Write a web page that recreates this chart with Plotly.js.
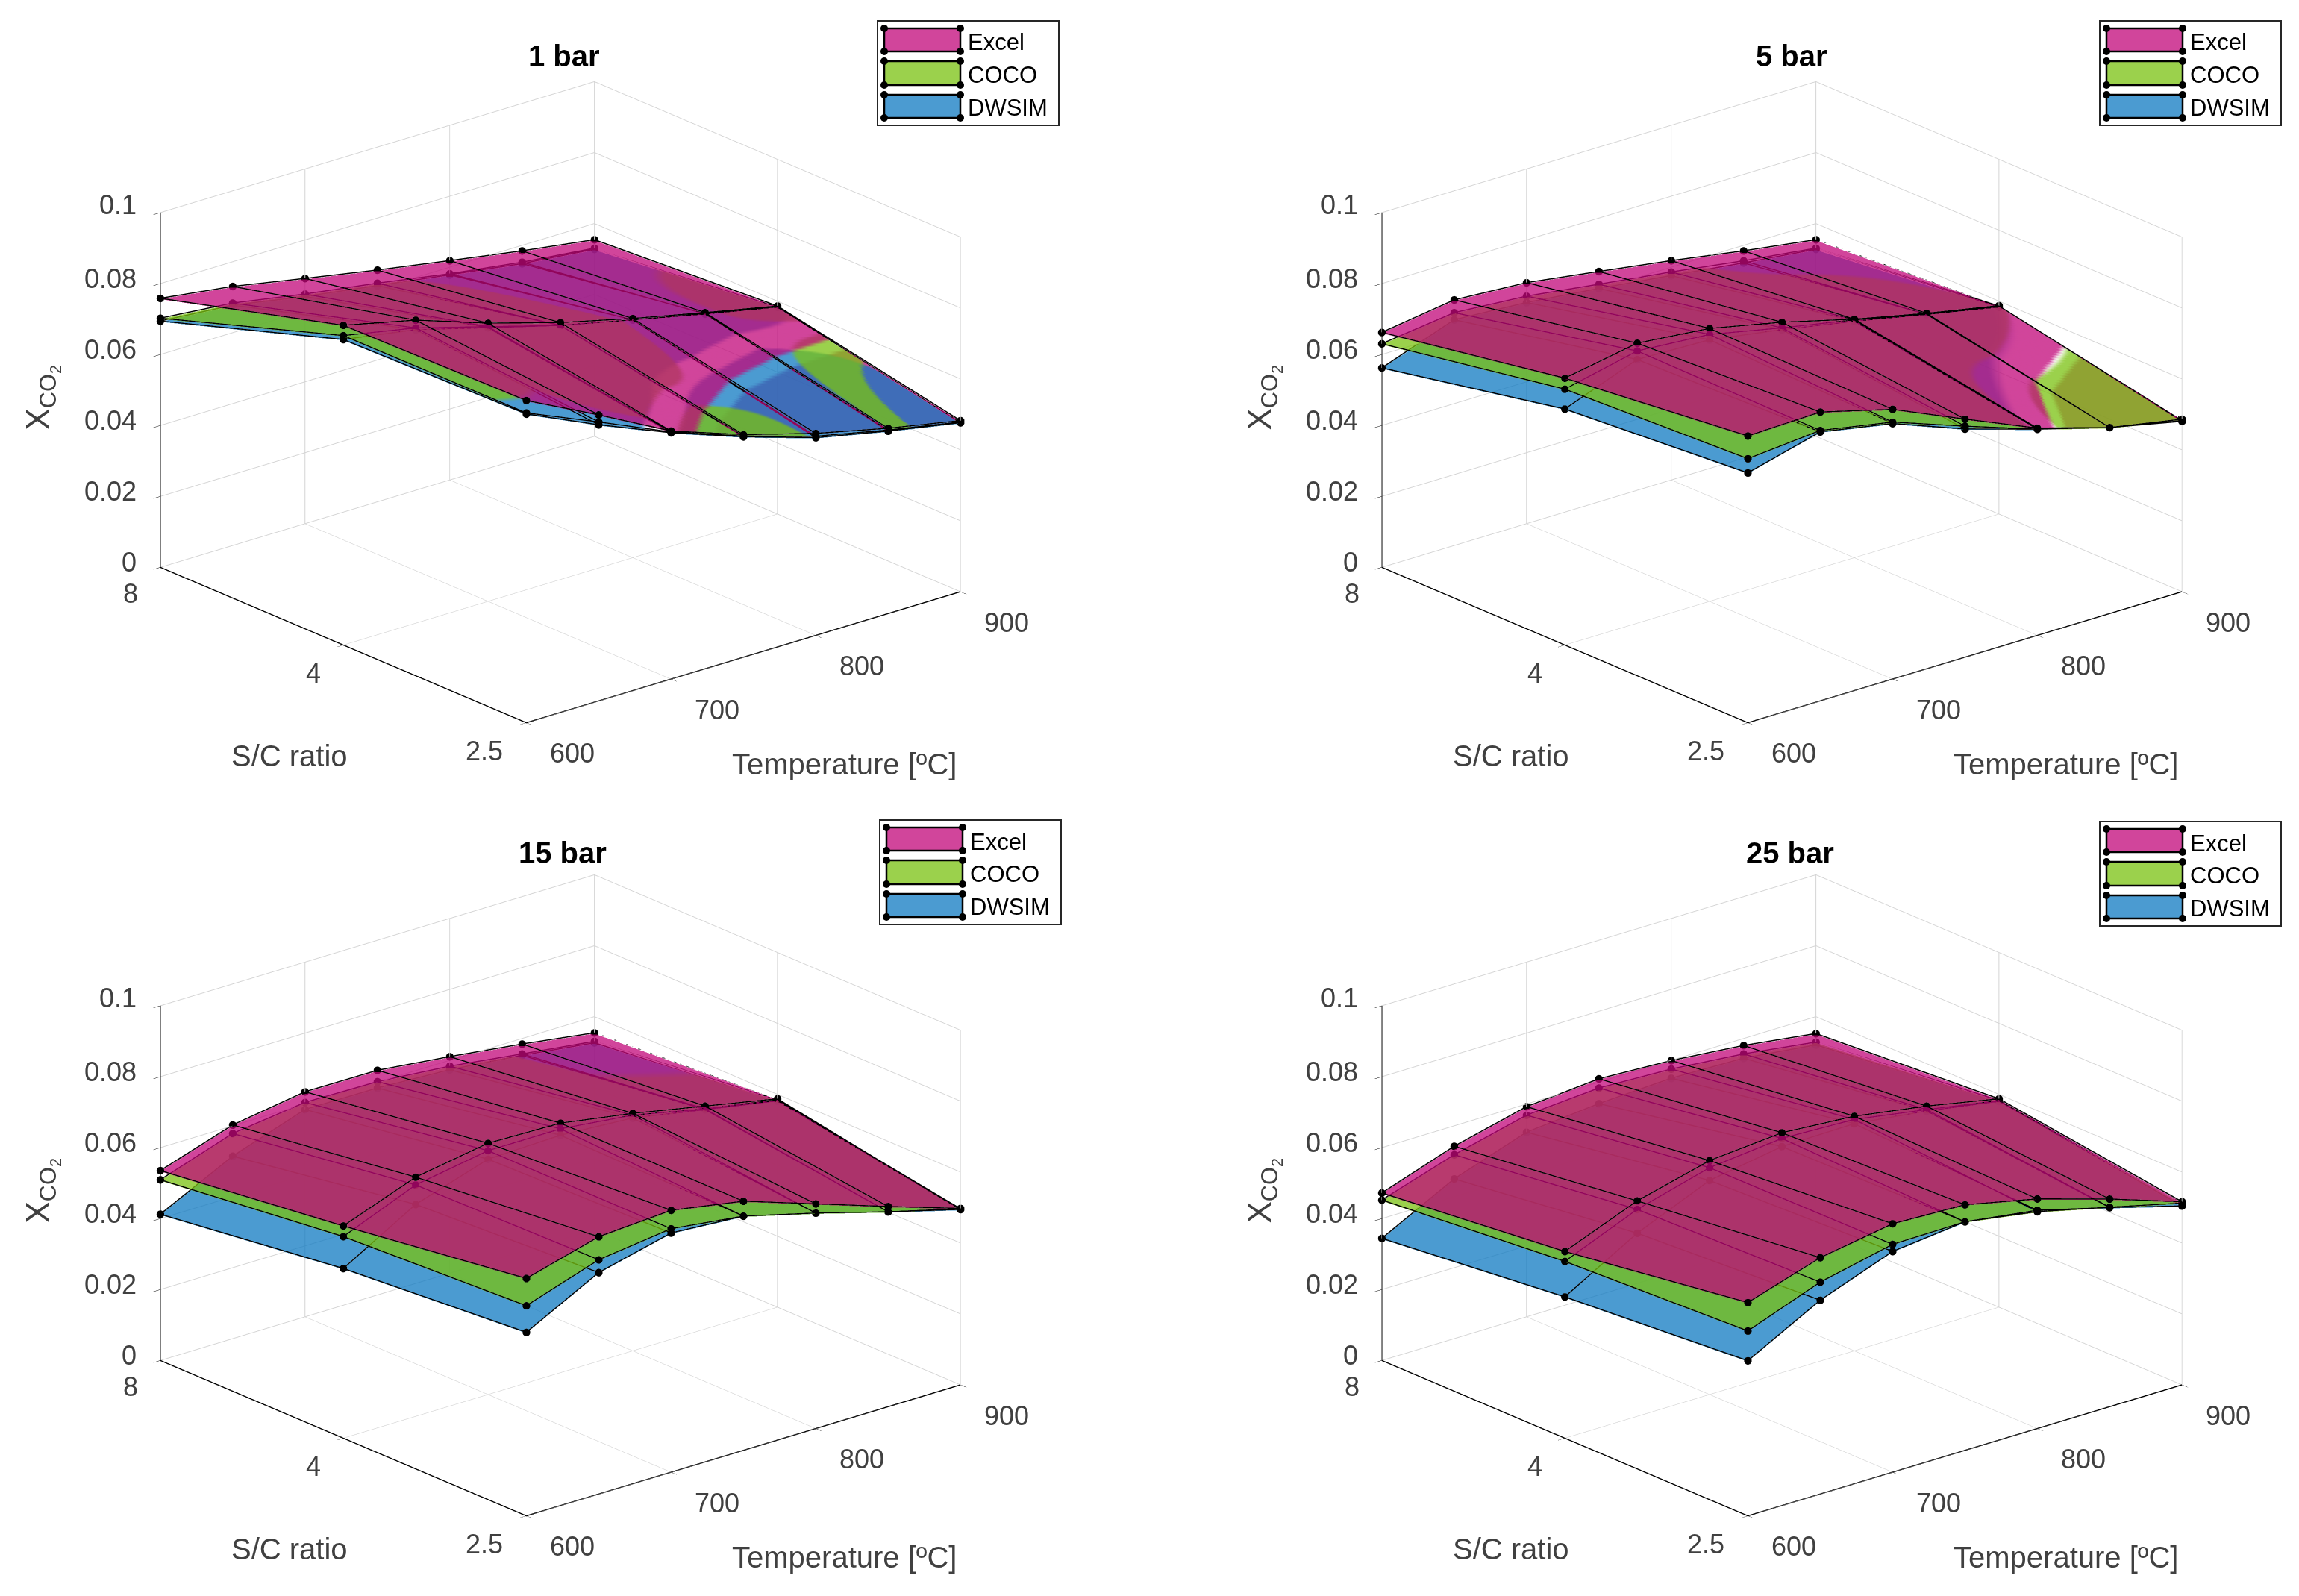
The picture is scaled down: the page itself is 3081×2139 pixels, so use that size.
<!DOCTYPE html>
<html><head><meta charset="utf-8">
<script src="https://cdn.plot.ly/plotly-3.0.1.min.js"></script>
<style>html,body{margin:0;padding:0;background:#fff}#g{width:3081px;height:2139px}</style></head>
<body><div id="g"></div>
<script>
const temperatures=[600,650,700,750,800,850,900];
const scLabels=['2.5','4','8'];
const scPos=[0,1,2];
const zTicks=[0,0.02,0.04,0.06,0.08,0.1];
const tempTicks=[600,700,800,900];
const seriesNames=['DWSIM','COCO','Excel'];
const seriesColors=['rgb(15,122,194)','rgb(122,194,16)','rgb(193,7,121)'];
const panelTitles=['1 bar','5 bar','15 bar','25 bar'];
// rows: S/C = 2.5, 4, 8 ; columns: temperatures
const excel1=[[.0906,.0804,.0697,.0625,.0567,.052,.048],[.0899,.0852,.0782,.0722,.0672,.0627,.0584],[.0756,.0728,.0689,.0651,.0616,.0582,.0552]];
const coco1=[[.0871,.0784,.0694,.0621,.0559,.0515,.0476],[.087,.083,.0772,.0714,.0668,.0623,.0581],[.07,.0681,.0645,.0614,.0579,.055,.0528]];
const dwsim1=[[.0868,.0776,.0692,.0619,.0555,.0512,.0474],[.0859,.0825,.0769,.0714,.0668,.0624,.0581],[.0692,.0675,.0638,.0607,.0576,.0546,.0525]];
const excel5=[[.0806,.0812,.0758,.0669,.0582,.0522,.0484],[.075,.0787,.0767,.0723,.067,.0625,.0585],[.066,.069,.0677,.0647,.0616,.0582,.0552]];
const coco5=[[.0742,.076,.0722,.0649,.0579,.0522,.048],[.0719,.0765,.075,.0707,.0668,.0622,.0584],[.0628,.0654,.0639,.0611,.0584,.0554,.0528]];
const dwsim5=[[.0702,.0756,.0718,.0641,.0579,.0522,.0478],[.0663,.0741,.0735,.0702,.0664,.0622,.0581],[.056,.0634,.0621,.0599,.0574,.0548,.0525]];
const excel15=[[.0667,.0723,.0736,.07,.0631,.0562,.0495],[.0596,.0672,.0706,.0701,.0667,.0626,.0585],[.0533,.06,.0632,.0631,.0608,.0582,.0552]];
const coco15=[[.059,.0658,.0684,.0658,.0605,.0547,.0494],[.0566,.065,.0685,.0685,.0662,.0618,.0582],[.0507,.0576,.0602,.0599,.0581,.0554,.0528]];
const dwsim15=[[.0515,.0622,.0672,.0658,.0605,.0547,.0492],[.0476,.0595,.0661,.0667,.0654,.0616,.0579],[.041,.0512,.0582,.0581,.0571,.055,.0524]];
const excel25=[[.0599,.0664,.0698,.069,.0645,.0583,.0514],[.0524,.0605,.0657,.0674,.0659,.0626,.0585],[.047,.054,.059,.0607,.0597,.0578,.055]];
const coco25=[[.0519,.0595,.064,.0642,.0609,.056,.051],[.0496,.0581,.0637,.0658,.065,.0616,.058],[.045,.0516,.0566,.0581,.0573,.0554,.0526]];
const dwsim25=[[.0435,.0544,.062,.0642,.0613,.0559,.0502],[.0396,.0514,.0601,.0635,.0638,.0612,.0578],[.0342,.0448,.0518,.0537,.0547,.0542,.0518]];
const panels=[[dwsim1,coco1,excel1],[dwsim5,coco5,excel5],[dwsim15,coco15,excel15],[dwsim25,coco25,excel25]];

// Which layer shows where the reference's surfaces cut through each other (style only, same grid as the data).
const maskPlain=[[.3,.3,.3,.3,.3,.3,.3],[.3,.3,.3,.3,.3,.3,.3],[.3,.3,.3,.3,.3,.3,.3]];
const maskE1=[[.5,.5,.95,1.46,1.85,2.08,2.23],[-1,-1,-.54,-.08,.31,.54,.69],[-.5,-.5,-.5,-.5,-.5,-.5,-.5]];
const maskC1=[[.9,.9,.95,1.38,.95,.95,2.3],[.3,.6,-.2,.03,.9,.85,.6],[.3,.3,.3,.72,.9,.9,.9]];
const maskD1=[[.5,.5,.95,1.31,1.85,2.08,1.19],[.3,.3,-.2,.27,.31,.54,.77],[.3,.3,.3,.3,.3,.3,.3]];
const maskE5=[[.3,.3,.3,.3,.94,1.75,2.12],[-.5,-.5,-.5,-.5,-.6,.21,.58],[-.5,-.5,-.5,-.5,-.5,-.5,-.5]];
const maskC5=[[.3,.3,.3,.3,.82,1.38,1.38],[.3,.3,.3,.3,.62,.46,.76],[.3,.3,.3,.3,.7,.9,.9]];
const maskD5=[[.3,.3,.3,.3,.82,.95,.95],[.3,.3,.3,.3,.62,.7,.79],[.3,.3,.3,.3,.3,.3,.3]];
const maskC15=[[.3,.3,.3,.3,.3,.3,.3],[.3,.3,.3,.3,.3,.7,.7],[.3,.3,.3,.3,.3,.85,.9]];
const panelMasks=[[maskD1,maskC1,maskE1],[maskD5,maskC5,maskE5],[maskPlain,maskC15,maskPlain],[maskPlain,maskPlain,maskPlain]];
const hasUnderlay=[true,true,false,false];
const MASK_MIN=-2,MASK_MAX=3;
const scaleD=[[0,1],[.5599,1],[.56,0],[.5999,0],[.6,1],[1,1]];
const scaleC=[[0,1],[.5599,1],[.56,0],[.5999,0],[.6,1],[.6799,1],[.68,0],[1,0]];
const scaleE=[[0,1],[.6239,1],[.624,0],[1,0]];
const scaleUnder=[[0,0],[.6539,0],[.654,1],[1,1]];
const layerScales=[scaleD,scaleC,scaleE];
const MESH_LIFT=0.00025;

const W=3081,H=2139;
const centers=[[751,539],[2388,539],[751,1602],[2388,1602]];
const legendOrigins=[[1176,28],[2814,28],[1179,1099],[2814,1101]];
const titleCenters=[[756,75],[2401,75],[754,1143],[2399,1143]];
const HW=690,HH=500;
const EYE=[-0.602,-0.714,0.358];
const SC=1.5;
const ZOOM=1.522;
const tc='#404040',ff='"Liberation Sans",Arial,sans-serif';

const traces=[],shapes=[],annos=[];
const layout={width:W,height:H,margin:{l:0,r:0,t:0,b:0},paper_bgcolor:'#fff',showlegend:false,shapes,annotations:annos,font:{family:ff}};
const surf=(sid,name,z,field,c,scale)=>({type:'surface',scene:sid,name,x:temperatures,y:scPos,z,surfacecolor:field,cmin:MASK_MIN,cmax:MASK_MAX,
  opacity:0.75,opacityscale:scale,showscale:false,colorscale:[[0,c],[1,c]],hoverinfo:'skip',
  lighting:{ambient:1,diffuse:0,specular:0,fresnel:0,roughness:1}});

panels.forEach((sets,p)=>{
  const sid=p?'scene'+(p+1):'scene';
  if(hasUnderlay[p]) traces.push(surf(sid,'Excel',sets[2],panelMasks[p][2],seriesColors[2],scaleUnder));
  sets.forEach((z,s)=>{
    traces.push(surf(sid,seriesNames[s],z,panelMasks[p][s],seriesColors[s],layerScales[s]));
    const lx=[],ly=[],lz=[];
    scPos.forEach((yy,r)=>{temperatures.forEach((t,i)=>{lx.push(t);ly.push(yy);lz.push(z[r][i]+MESH_LIFT);});lx.push(null);ly.push(null);lz.push(null);});
    temperatures.forEach((t,i)=>{scPos.forEach((yy,r)=>{lx.push(t);ly.push(yy);lz.push(z[r][i]+MESH_LIFT);});lx.push(null);ly.push(null);lz.push(null);});
    traces.push({type:'scatter3d',scene:sid,mode:'lines+markers',name:seriesNames[s]+' mesh',x:lx,y:ly,z:lz,connectgaps:false,
      line:{color:'#000',width:3},marker:{color:'#000',size:6},hoverinfo:'skip'});
  });
  const [cx,cy]=centers[p];
  const ax=(tv)=>({tickvals:tv,showticklabels:false,showspikes:false,showbackground:false,showline:true,linecolor:'#000',linewidth:3,
    gridcolor:'#d4d4d4',gridwidth:2,zeroline:false,ticks:'outside',ticklen:12,tickcolor:'#000',title:{text:''}});
  const sa=[];
  const lab=(x,y,z,text,xs,ys,o)=>sa.push(Object.assign({x,y,z,text,showarrow:false,xshift:xs,yshift:-ys,xanchor:'center',yanchor:'middle',font:{size:36,color:tc,family:ff}},o||{}));
  tempTicks.forEach(t=>lab(Math.min(t,899.9),0,0,String(t),62,41));
  scLabels.forEach((t,k)=>lab(600,scPos[k],0,t,k===0?-56:-40,k===2?35:38));
  zTicks.forEach(v=>lab(600,2,v,String(v),-30,v===0.1?-10:-7,{xanchor:'right'}));
  lab(750,0,0,'Temperature [ºC]',135,143,{font:{size:40,color:tc,family:ff}});
  lab(600,1,0,'S/C ratio',-72,149,{font:{size:40,color:tc,family:ff}});
  lab(600,2,0.05,'X<sub>CO<sub>2</sub></sub>',-158,10,{textangle:-90,font:{size:44,color:tc,family:ff}});
  layout[sid]={domain:{x:[(cx-HW)/W,(cx+HW)/W],y:[1-(cy+HH)/H,1-(cy-HH)/H]},
    aspectmode:'manual',aspectratio:{x:ZOOM,y:ZOOM,z:0.669*ZOOM},
    camera:{projection:{type:'orthographic'},eye:{x:EYE[0]*SC,y:EYE[1]*SC,z:EYE[2]*SC},center:{x:0,y:0,z:0},up:{x:0,y:0,z:1}},
    xaxis:Object.assign(ax(tempTicks),{range:[600,900]}),
    yaxis:Object.assign(ax(scPos),{range:[0,2]}),
    zaxis:Object.assign(ax(zTicks),{range:[0,0.1]}),
    annotations:sa,bgcolor:'#fff'};
  annos.push({xref:'paper',yref:'paper',x:titleCenters[p][0]/W,y:1-titleCenters[p][1]/H,text:'<b>'+panelTitles[p]+'</b>',showarrow:false,xanchor:'center',yanchor:'middle',font:{size:40,color:'#000',family:ff}});
  const [lx,ly]=legendOrigins[p];
  const R=(x0,y0,x1,y1,o)=>shapes.push(Object.assign({type:'rect',xref:'paper',yref:'paper',x0:x0/W,x1:x1/W,y0:1-y0/H,y1:1-y1/H},o));
  const C=(x,y)=>shapes.push({type:'circle',xref:'paper',yref:'paper',x0:(x-5)/W,x1:(x+5)/W,y0:1-(y-5)/H,y1:1-(y+5)/H,fillcolor:'#000',line:{width:0}});
  R(lx,ly,lx+243,ly+140,{fillcolor:'#fff',line:{color:'#262626',width:2}});
  const legendFill=['rgb(209,69,155)','rgb(155,209,76)','rgb(75,155,209)'],legendNames=['Excel','COCO','DWSIM'];
  [[10,41],[54,86],[99,130]].forEach((yy,k)=>{
    R(lx+9,ly+yy[0],lx+111,ly+yy[1],{fillcolor:legendFill[k],line:{color:'#000',width:2.5}});
    [[9,yy[0]],[111,yy[0]],[9,yy[1]],[111,yy[1]]].forEach(q=>C(lx+q[0],ly+q[1]));
    annos.push({xref:'paper',yref:'paper',x:(lx+119)/W,y:1-(ly+[29,72,116][k])/H,text:legendNames[k],showarrow:false,xanchor:'left',yanchor:'middle',font:{size:31,color:'#000',family:ff}});
  });
});
setTimeout(()=>Plotly.newPlot('g',traces,layout,{displayModeBar:false}),50);
</script></body></html>
